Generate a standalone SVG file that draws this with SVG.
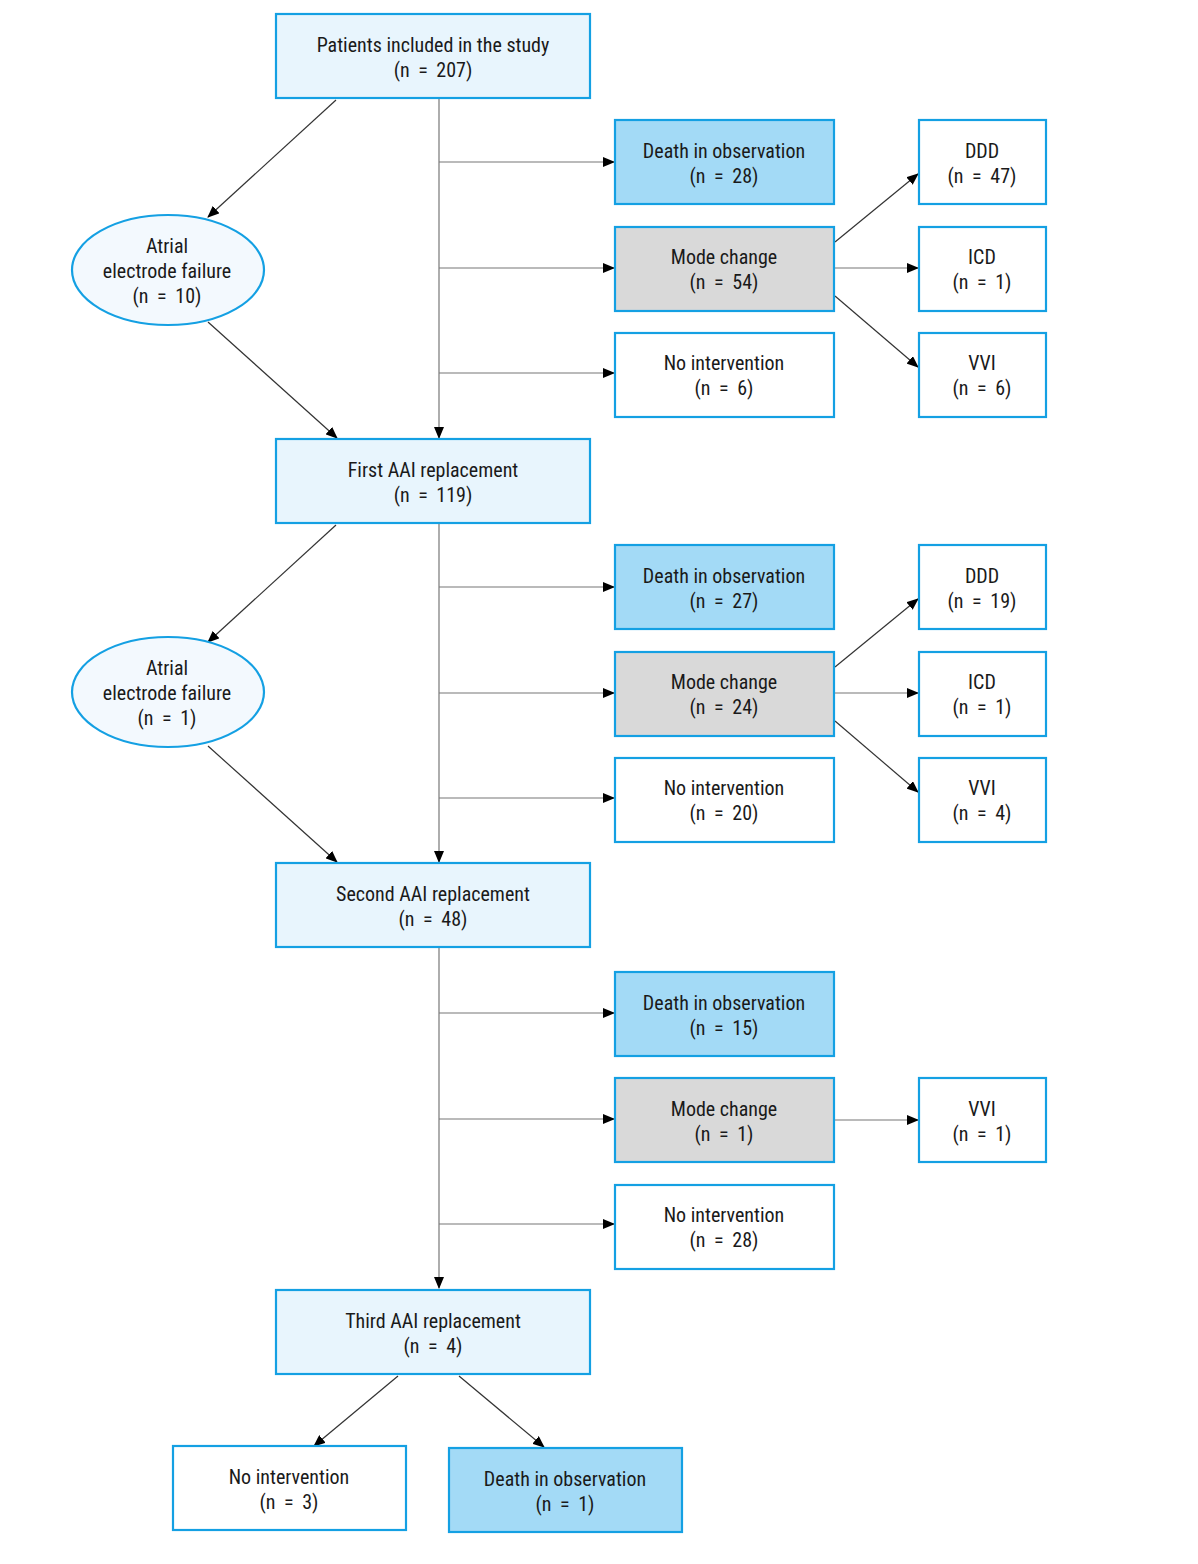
<svg xmlns="http://www.w3.org/2000/svg" width="1198" height="1564" viewBox="0 0 1198 1564">
<defs>
<style>
.b{stroke:#14a0e3;stroke-width:2.2}
.lt{fill:#e8f5fd}
.dt{fill:#a3daf6}
.mc{fill:#d9d9d9}
.wh{fill:#ffffff}
.el{fill:#f3f9fe}
text{font-family:"Liberation Sans Narrow","Roboto Condensed","Liberation Sans",sans-serif;font-size:20px;fill:#1a1a1a;text-anchor:middle}
text.n{word-spacing:4px}
.c line{stroke:#333;stroke-width:1.2;marker-end:url(#ah)}
.c line.g{stroke:#777}
</style>
<marker id="ah" markerWidth="12" markerHeight="10" refX="11" refY="5" orient="auto" markerUnits="userSpaceOnUse">
<path d="M0,0 L12,5 L0,10 z" fill="#000"/>
</marker>
</defs>
<rect width="1198" height="1564" fill="#fff"/>

<g class="c" id="connectors">
<line class="g" x1="439" y1="99" x2="439" y2="438"/>
<line class="g" x1="439" y1="162" x2="614" y2="162"/>
<line class="g" x1="439" y1="268" x2="614" y2="268"/>
<line class="g" x1="439" y1="373" x2="614" y2="373"/>
<line x1="336" y1="100" x2="208" y2="217"/>
<line x1="208" y1="322" x2="337" y2="438"/>
<line x1="835" y1="242" x2="918" y2="174"/>
<line class="g" x1="835" y1="268" x2="918" y2="268"/>
<line x1="835" y1="296" x2="918" y2="367"/>
<line class="g" x1="439" y1="524" x2="439" y2="862"/>
<line class="g" x1="439" y1="587" x2="614" y2="587"/>
<line class="g" x1="439" y1="693" x2="614" y2="693"/>
<line class="g" x1="439" y1="798" x2="614" y2="798"/>
<line x1="336" y1="525" x2="208" y2="642"/>
<line x1="208" y1="746" x2="337" y2="862"/>
<line x1="835" y1="667" x2="918" y2="599"/>
<line class="g" x1="835" y1="693" x2="918" y2="693"/>
<line x1="835" y1="721" x2="918" y2="792"/>
<line class="g" x1="439" y1="948" x2="439" y2="1288"/>
<line class="g" x1="439" y1="1013" x2="614" y2="1013"/>
<line class="g" x1="439" y1="1119" x2="614" y2="1119"/>
<line class="g" x1="439" y1="1224" x2="614" y2="1224"/>
<line class="g" x1="835" y1="1120" x2="918" y2="1120"/>
<line x1="398" y1="1376" x2="314" y2="1446"/>
<line x1="459" y1="1376" x2="544" y2="1447"/>
</g>

<g id="n_patients"><rect class="b lt" x="276" y="14" width="314" height="84"/><text x="433" y="52">Patients included in the study</text><text class="n" x="433" y="77">(n = 207)</text></g>

<g id="n_death1"><rect class="b dt" x="615" y="120" width="219" height="84"/><text x="724" y="158">Death in observation</text><text class="n" x="724" y="183">(n = 28)</text></g>
<g id="n_mode1"><rect class="b mc" x="615" y="227" width="219" height="84"/><text x="724" y="264">Mode change</text><text class="n" x="724" y="289">(n = 54)</text></g>
<g id="n_noint1"><rect class="b wh" x="615" y="333" width="219" height="84"/><text x="724" y="370">No intervention</text><text class="n" x="724" y="395">(n = 6)</text></g>
<g id="n_ddd1"><rect class="b wh" x="919" y="120" width="127" height="84"/><text x="982" y="158">DDD</text><text class="n" x="982" y="183">(n = 47)</text></g>
<g id="n_icd1"><rect class="b wh" x="919" y="227" width="127" height="84"/><text x="982" y="264">ICD</text><text class="n" x="982" y="289">(n = 1)</text></g>
<g id="n_vvi1"><rect class="b wh" x="919" y="333" width="127" height="84"/><text x="982" y="370">VVI</text><text class="n" x="982" y="395">(n = 6)</text></g>
<g id="n_fail1"><ellipse class="b el" cx="168" cy="270" rx="96" ry="55"/><text x="167" y="253">Atrial</text><text x="167" y="278">electrode failure</text><text class="n" x="167" y="303">(n = 10)</text></g>

<g id="n_first"><rect class="b lt" x="276" y="439" width="314" height="84"/><text x="433" y="477">First AAI replacement</text><text class="n" x="433" y="502">(n = 119)</text></g>

<g id="n_death2"><rect class="b dt" x="615" y="545" width="219" height="84"/><text x="724" y="583">Death in observation</text><text class="n" x="724" y="608">(n = 27)</text></g>
<g id="n_mode2"><rect class="b mc" x="615" y="652" width="219" height="84"/><text x="724" y="689">Mode change</text><text class="n" x="724" y="714">(n = 24)</text></g>
<g id="n_noint2"><rect class="b wh" x="615" y="758" width="219" height="84"/><text x="724" y="795">No intervention</text><text class="n" x="724" y="820">(n = 20)</text></g>
<g id="n_ddd2"><rect class="b wh" x="919" y="545" width="127" height="84"/><text x="982" y="583">DDD</text><text class="n" x="982" y="608">(n = 19)</text></g>
<g id="n_icd2"><rect class="b wh" x="919" y="652" width="127" height="84"/><text x="982" y="689">ICD</text><text class="n" x="982" y="714">(n = 1)</text></g>
<g id="n_vvi2"><rect class="b wh" x="919" y="758" width="127" height="84"/><text x="982" y="795">VVI</text><text class="n" x="982" y="820">(n = 4)</text></g>
<g id="n_fail2"><ellipse class="b el" cx="168" cy="692" rx="96" ry="55"/><text x="167" y="675">Atrial</text><text x="167" y="700">electrode failure</text><text class="n" x="167" y="725">(n = 1)</text></g>

<g id="n_second"><rect class="b lt" x="276" y="863" width="314" height="84"/><text x="433" y="901">Second AAI replacement</text><text class="n" x="433" y="926">(n = 48)</text></g>

<g id="n_death3"><rect class="b dt" x="615" y="972" width="219" height="84"/><text x="724" y="1010">Death in observation</text><text class="n" x="724" y="1035">(n = 15)</text></g>
<g id="n_mode3"><rect class="b mc" x="615" y="1078" width="219" height="84"/><text x="724" y="1116">Mode change</text><text class="n" x="724" y="1141">(n = 1)</text></g>
<g id="n_noint3"><rect class="b wh" x="615" y="1185" width="219" height="84"/><text x="724" y="1222">No intervention</text><text class="n" x="724" y="1247">(n = 28)</text></g>
<g id="n_vvi3"><rect class="b wh" x="919" y="1078" width="127" height="84"/><text x="982" y="1116">VVI</text><text class="n" x="982" y="1141">(n = 1)</text></g>

<g id="n_third"><rect class="b lt" x="276" y="1290" width="314" height="84"/><text x="433" y="1328">Third AAI replacement</text><text class="n" x="433" y="1353">(n = 4)</text></g>

<g id="n_noint4"><rect class="b wh" x="173" y="1446" width="233" height="84"/><text x="289" y="1484">No intervention</text><text class="n" x="289" y="1509">(n = 3)</text></g>
<g id="n_death4"><rect class="b dt" x="449" y="1448" width="233" height="84"/><text x="565" y="1486">Death in observation</text><text class="n" x="565" y="1511">(n = 1)</text></g>
</svg>
